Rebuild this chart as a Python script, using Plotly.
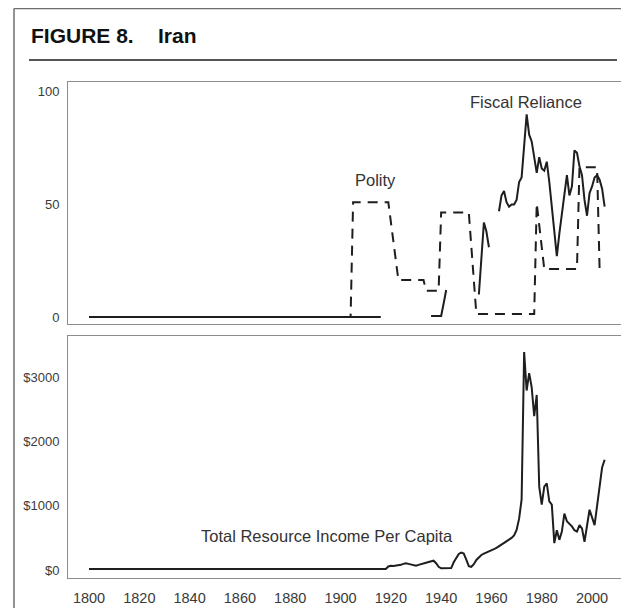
import plotly.graph_objects as go
from plotly.subplots import make_subplots

# the page body keeps an 8px margin, so the figure is drawn 8px smaller
PAGE_W, PAGE_H = 629, 608
OFF = 8
W, H = PAGE_W - OFF, PAGE_H - OFF


def px(x):
    return (x - OFF) / W


def py(y):
    return 1 - (y - OFF) / H


# polity score (rescaled 0-100), dashed line
polity_years = [1800, 1904, 1905, 1919, 1923, 1933, 1934, 1939, 1940, 1951, 1954,
                1977, 1978, 1981, 1994, 1995, 2002, 2003]
polity_vals = [0, 0, 51, 51, 16.4, 16.4, 11.7, 11.7, 46.4, 46.4, 1.3,
               1.3, 50.5, 21.3, 21.3, 66.5, 66.5, 21.3]

# fiscal reliance, solid line (None = gap)
fiscal_years = [1800, 1916, 1917, 1936, 1940, 1941, 1942, 1943,
                1955, 1957, 1958, 1959, 1960] + list(range(1963, 2006))
fiscal_vals = [0, 0, None, 0.5, 0.5, 6, 12, None,
               10, 42, 38, 31, None,
               47, 54, 56, 51, 49, 50, 50, 52, 60, 62,
               76, 90, 81, 78, 71, 64, 71, 66, 65, 69,
               60, 49, 39, 27, 37, 46, 53, 63, 54, 58,
               74, 73, 67, 63, 52, 45, 55, 58, 62, 63,
               61, 57, 49]

# total resource income per capita ($)
income_years = [1800, 1918] + list(range(1919, 2006))
income_vals = [15, 15,
               55, 65, 62, 66, 70, 80, 95, 105, 95, 85,
               75, 67, 80, 95, 105, 114, 125, 140, 145, 105,
               50, 27, 27, 27, 27, 30, 120, 198, 250, 270,
               255, 160, 60, 50, 90, 156, 200, 234, 255, 270,
               286, 305, 325, 345, 370, 395, 420, 442, 470, 500,
               540, 625, 800, 1100, 3400, 2800, 3070, 2850, 2400, 2730,
               1300, 1020, 1300, 1350, 1070, 1020, 420, 620, 470, 600,
               880, 760, 720, 680, 620, 600, 700, 650, 440, 700,
               940, 820, 700, 1000, 1300, 1600, 1720]

x_ticks = [1800, 1820, 1840, 1860, 1880, 1900, 1920, 1940, 1960, 1980, 2000]
top_ticks = [0, 50, 100]
bottom_ticks = [0, 1000, 2000, 3000]
bottom_labels = ['$0', '$1000', '$2000', '$3000']

FONT = 'Liberation Sans, Arial, sans-serif'
INK = '#1e1e1e'

fig = make_subplots(rows=2, cols=1)

fig.add_trace(go.Scatter(x=polity_years, y=polity_vals, mode='lines',
                         line=dict(color=INK, width=2, dash='10px,7px')), row=1, col=1)
fig.add_trace(go.Scatter(x=fiscal_years, y=fiscal_vals, mode='lines', connectgaps=False,
                         line=dict(color=INK, width=2)), row=1, col=1)
fig.add_trace(go.Scatter(x=income_years, y=income_vals, mode='lines',
                         line=dict(color=INK, width=2)), row=2, col=1)

axis_style = dict(showline=True, mirror=True, linecolor='#8c8c8c', linewidth=1,
                  showgrid=False, zeroline=False, ticks='')
x_range = [1791.65, 2013.1]

fig.update_xaxes(axis_style)
fig.update_yaxes(axis_style)

fig.update_layout(
    xaxis=dict(domain=[px(68), px(625)], range=x_range, showticklabels=False),
    yaxis=dict(domain=[py(324), py(82)], range=[-3.1, 104.4],
               tickvals=top_ticks, ticklabelstandoff=5,
               tickfont=dict(family=FONT, size=13, color='#3a3a3a')),
    xaxis2=dict(domain=[px(68), px(625)], range=x_range, tickvals=x_ticks,
                ticklabelstandoff=7,
                tickfont=dict(family=FONT, size=14.5, color='#3a3a3a')),
    yaxis2=dict(domain=[py(578), py(336)], range=[-125, 3650],
                tickvals=bottom_ticks, ticktext=bottom_labels, ticklabelstandoff=5,
                tickfont=dict(family=FONT, size=13, color='#3a3a3a')),
    width=W, height=H,
    margin=dict(l=0, r=0, t=0, b=0),
    paper_bgcolor='white', plot_bgcolor='white',
    showlegend=False,
)

label_font = dict(family=FONT, size=16.5, color='#333333')
fig.add_annotation(x=1914, y=61, xref='x', yref='y', text='Polity',
                   showarrow=False, font=label_font)
fig.add_annotation(x=1973.6, y=95.7, xref='x', yref='y', text='Fiscal Reliance',
                   showarrow=False, font=label_font)
fig.add_annotation(x=1894.6, y=535, xref='x2', yref='y2',
                   text='Total Resource Income Per Capita',
                   showarrow=False, font=label_font)

# header
title_font = dict(family=FONT, size=21, color='#111111')
fig.add_annotation(x=px(29), y=py(36), xref='paper', yref='paper',
                   text='<b>FIGURE 8.</b>', xanchor='left', yanchor='middle',
                   showarrow=False, font=title_font)
fig.add_annotation(x=px(156), y=py(36), xref='paper', yref='paper',
                   text='<b>Iran</b>', xanchor='left', yanchor='middle',
                   showarrow=False, font=title_font)

# outer frame and rule under the header
fig.add_shape(type='line', xref='paper', yref='paper',
              x0=px(14), x1=1, y0=py(8.5), y1=py(8.5),
              line=dict(color='#6e6e6e', width=1.5))
fig.add_shape(type='line', xref='paper', yref='paper',
              x0=px(14), x1=px(14), y0=0, y1=py(8.5),
              line=dict(color='#6e6e6e', width=1.5))
fig.add_shape(type='line', xref='paper', yref='paper',
              x0=px(29), x1=px(617), y0=py(60), y1=py(60),
              line=dict(color='#555555', width=2))

fig.write_html('out.html')
